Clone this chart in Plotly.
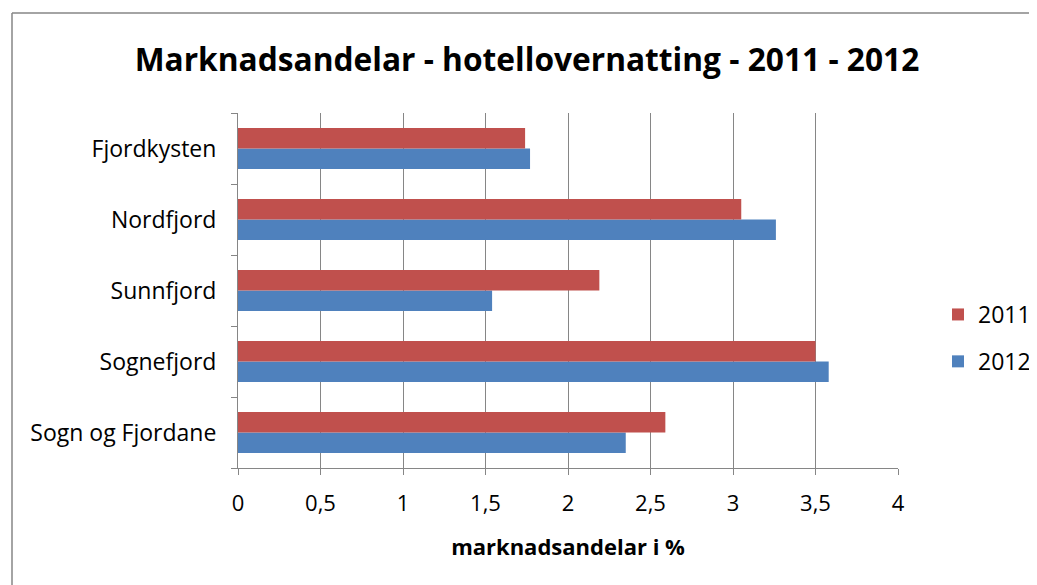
import plotly.graph_objects as go

categories = ["Sogn og Fjordane", "Sognefjord", "Sunnfjord", "Nordfjord", "Fjordkysten"]
values_2011 = [2.59, 3.50, 2.19, 3.05, 1.74]
values_2012 = [2.35, 3.58, 1.54, 3.26, 1.77]
x_ticks = [0, 0.5, 1, 1.5, 2, 2.5, 3, 3.5, 4]
x_tick_labels = ["0", "0,5", "1", "1,5", "2", "2,5", "3", "3,5", "4"]

FONT = "Open Sans, Liberation Sans, sans-serif"

# page body has an 8px margin; work in reference pixel coords shifted by OFF
OFF = 8
W, H = 1037 - OFF, 585 - OFF
L, T = 238 - OFF, 113 - OFF
PR, PB = 898 - OFF, 468 - OFF
R, B = W - PR, H - PB
pw, ph = PR - L, PB - T

def px(xp):
    return (xp - OFF - L) / pw

def py(yp):
    return (PB - (yp - OFF)) / ph

fig = go.Figure()
fig.add_trace(go.Bar(y=categories, x=values_2012, orientation="h", name="2012",
                     marker=dict(color="#4F81BD", line=dict(width=0)),
                     legendgroup="g2012", legendrank=2))
fig.add_trace(go.Bar(y=categories, x=values_2011, orientation="h", name="2011",
                     marker=dict(color="#C0504D", line=dict(width=0)),
                     legendgroup="g2011", legendrank=1))

fig.update_layout(
    width=W, height=H,
    margin=dict(l=L, r=R, t=T, b=B, autoexpand=False),
    paper_bgcolor="white", plot_bgcolor="white",
    barmode="group", bargap=0.42, bargroupgap=0,
    font=dict(family=FONT, color="#000000"),
    title=dict(text="<b>Marknadsandelar - hotellovernatting - 2011 - 2012</b>",
               x=(527 - OFF) / W, xanchor="center", y=1 - (60 - OFF) / H, yanchor="middle",
               font=dict(size=31.7, family=FONT)),
    legend=dict(x=px(938), xanchor="left", y=py(338), yanchor="middle",
                traceorder="grouped", tracegroupgap=14,
                font=dict(size=23, family=FONT), itemwidth=30,
                bgcolor="rgba(0,0,0,0)"),
    xaxis=dict(range=[0, 4], tickvals=x_ticks, ticktext=x_tick_labels,
               showgrid=True, gridcolor="#868686", gridwidth=1,
               showline=True, linecolor="#868686", linewidth=1,
               ticks="outside", ticklen=6, tickcolor="#868686", ticklabelstandoff=10,
               tickfont=dict(size=22, family=FONT), zeroline=False, automargin=False,
               title=dict(text="<b>marknadsandelar i %</b>", font=dict(size=22, family=FONT),
                          standoff=23)),
    yaxis=dict(type="category", categoryorder="array", categoryarray=categories,
               showline=True, linecolor="#868686", linewidth=1, automargin=False,
               ticks="outside", ticklen=6, tickcolor="#868686", tickson="boundaries",
               ticklabelstandoff=16,
               showgrid=False, tickfont=dict(size=23, family=FONT)),
)

# outer chart frame: left and top edges (right/bottom fall outside the view)
fig.add_shape(type="line", xref="paper", yref="paper",
              x0=px(12), x1=px(12), y0=py(13), y1=py(620),
              line=dict(color="#868686", width=1.5), layer="below")
fig.add_shape(type="line", xref="paper", yref="paper",
              x0=px(12), x1=px(1100), y0=py(13), y1=py(13),
              line=dict(color="#868686", width=1.5), layer="below")

fig.write_html("out.html")
